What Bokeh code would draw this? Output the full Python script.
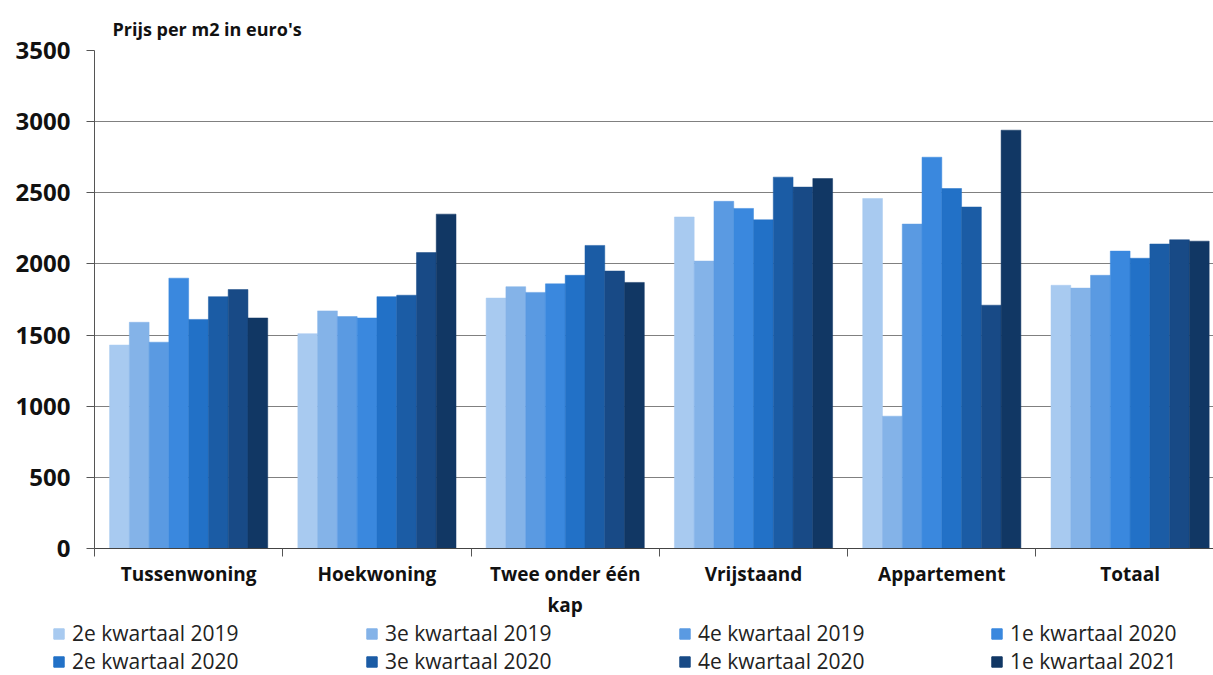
from bokeh.plotting import figure
from bokeh.models import Range1d, FixedTicker, Legend, LegendItem
from bokeh.layouts import column
from bokeh.embed import file_html
from bokeh.resources import INLINE

categories = ["Tussenwoning", "Hoekwoning", "Twee onder één\nkap", "Vrijstaand", "Appartement", "Totaal"]
series = ["2e kwartaal 2019", "3e kwartaal 2019", "4e kwartaal 2019", "1e kwartaal 2020",
          "2e kwartaal 2020", "3e kwartaal 2020", "4e kwartaal 2020", "1e kwartaal 2021"]
colors = ["#A8CAF0", "#84B3E8", "#5A9AE2", "#3A88DE", "#2271C7", "#1B5CA5", "#184A86", "#113764"]

v_2e_2019 = [1430, 1510, 1760, 2330, 2460, 1850]
v_3e_2019 = [1590, 1670, 1840, 2020, 930, 1830]
v_4e_2019 = [1450, 1630, 1800, 2440, 2280, 1920]
v_1e_2020 = [1900, 1620, 1860, 2390, 2750, 2090]
v_2e_2020 = [1610, 1770, 1920, 2310, 2530, 2040]
v_3e_2020 = [1770, 1780, 2130, 2610, 2400, 2140]
v_4e_2020 = [1820, 2080, 1950, 2540, 1710, 2170]
v_1e_2021 = [1620, 2350, 1870, 2600, 2940, 2160]
values = [v_2e_2019, v_3e_2019, v_4e_2019, v_1e_2020, v_2e_2020, v_3e_2020, v_4e_2020, v_1e_2021]
y_ticks = [0, 500, 1000, 1500, 2000, 2500, 3000, 3500]

FONT = "Open Sans"
gap = 0.08
bw = (1 - 2 * gap) / 8

p = figure(width=1213, height=620, output_backend="svg", toolbar_location=None,
           x_range=Range1d(0, 5.943), y_range=Range1d(0, 3500),
           min_border_left=94, min_border_right=0, min_border_top=50, min_border_bottom=70)
p.frame_align = False
p.outline_line_color = None

for j, (name, vals, col) in enumerate(zip(series, values, colors)):
    xs = [i + gap + (j + 0.5) * bw for i in range(len(categories))]
    p.vbar(x=xs, top=vals, width=bw, bottom=0, fill_color=col, line_color=col, line_width=0.5)

# axes
p.yaxis.ticker = FixedTicker(ticks=y_ticks)
p.yaxis.axis_line_color = "#555555"
p.yaxis.major_tick_line_color = "#555555"
p.yaxis.major_tick_out = 8
p.yaxis.major_tick_in = 0
p.yaxis.minor_tick_line_color = None
p.yaxis.major_label_text_font = FONT
p.yaxis.major_label_text_font_style = "bold"
p.yaxis.major_label_text_font_size = "24px"
p.yaxis.major_label_text_color = "#111111"
p.yaxis.major_label_standoff = 16

centers = [i + 0.5 for i in range(len(categories))]
p.xaxis.ticker = FixedTicker(ticks=centers, minor_ticks=list(range(0, 7)))
p.xaxis.major_label_overrides = {c: lab for c, lab in zip(centers, categories)}
p.xaxis.major_tick_line_color = None
p.xaxis.minor_tick_line_color = "#555555"
p.xaxis.minor_tick_out = 8
p.xaxis.minor_tick_in = 0
p.xaxis.axis_line_color = "#444444"
p.xaxis.major_label_text_font = FONT
p.xaxis.major_label_text_font_style = "bold"
p.xaxis.major_label_text_font_size = "19px"
p.xaxis.major_label_text_color = "#111111"
p.xaxis.major_label_standoff = 4

p.xgrid.grid_line_color = None
p.ygrid.ticker = FixedTicker(ticks=y_ticks)
p.ygrid.grid_line_color = "#808080"
p.ygrid.grid_line_width = 1.2

# title
p.title.text = "Prijs per m2 in euro's"
p.title.text_font = FONT
p.title.text_font_style = "bold"
p.title.text_font_size = "18px"
p.title.text_color = "#111111"
p.title.align = "left"
p.title.offset = 18
p.title.standoff = 20

# legend figure
q = figure(width=1213, height=55, output_backend="svg", toolbar_location=None,
           x_range=Range1d(0, 1), y_range=Range1d(0, 1),
           min_border_left=0, min_border_right=0, min_border_top=0, min_border_bottom=0)
q.frame_align = False
q.axis.visible = False
q.grid.grid_line_color = None
q.outline_line_color = None
rends = []
for name, col in zip(series, colors):
    rends.append(q.rect(x=[-5], y=[-5], width=0.1, height=0.1, fill_color=col, line_color=col))
col_x = [52, 365, 678, 990]
for c in range(4):
    its = [LegendItem(label=series[c], renderers=[rends[c]]),
           LegendItem(label=series[c + 4], renderers=[rends[c + 4]])]
    lg = Legend(items=its, ncols=1, location=(col_x[c], 0),
                label_text_font=FONT, label_text_font_size="21px", label_text_color="#222222",
                glyph_width=13, glyph_height=13, label_standoff=7, label_width=190,
                label_height=20, spacing=-2, padding=0, margin=0,
                border_line_color=None, background_fill_alpha=0)
    q.add_layout(lg, "center")

open("out.html", "w").write(file_html(column(p, q, spacing=0), INLINE))
